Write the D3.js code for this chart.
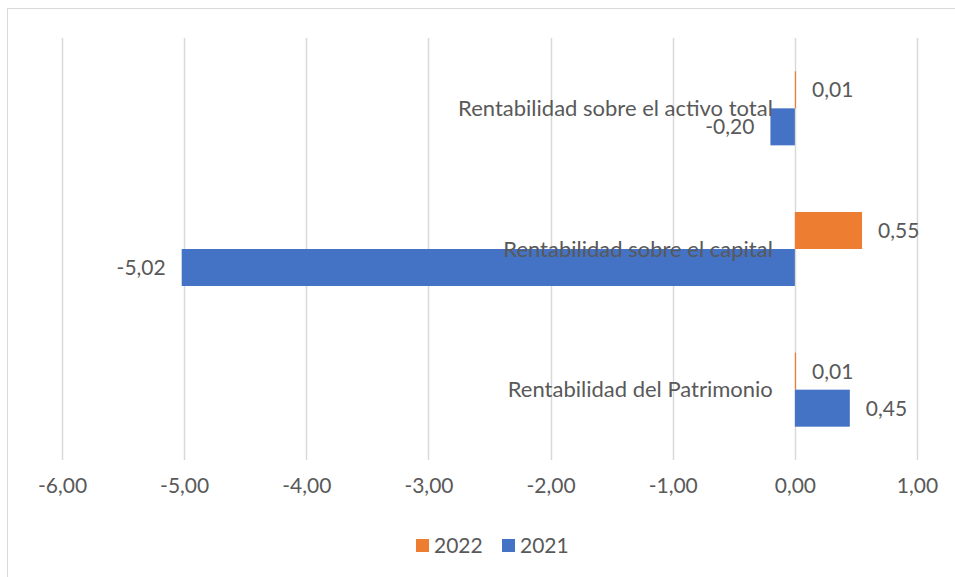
<!DOCTYPE html>
<html>
<head>
<meta charset="utf-8">
<script src="https://cdn.jsdelivr.net/npm/d3@7"></script>
<style>
  html, body { margin: 0; padding: 0; background: #fff; }
  svg text { font-family: Lato, Carlito, Calibri, sans-serif; fill: #595959; }
</style>
</head>
<body>
<div id="chart"></div>
<script>
  var categories = ['Rentabilidad sobre el activo total', 'Rentabilidad sobre el capital', 'Rentabilidad del Patrimonio'];
  var seriesNames = ['2022', '2021'];
  var values2022 = [0.01, 0.55, 0.01];
  var values2021 = [-0.20, -5.02, 0.45];
  var tickValues = [-6, -5, -4, -3, -2, -1, 0, 1];
  var colours = { '2022': '#ED7D31', '2021': '#4472C4' };

  var width = 955, height = 577;
  var fontSize = 21;
  var fmt = function(v) { return v.toFixed(2).replace('.', ','); };

  var svg = d3.select('#chart')
    .append('svg')
    .attr('width', width)
    .attr('height', height);

  // chart frame
  svg.append('rect')
    .attr('x', 7.5).attr('y', 8.5)
    .attr('width', 960).attr('height', 600)
    .attr('fill', 'none')
    .attr('stroke', '#D9D9D9');

  var x = d3.scaleLinear().domain([-6, 1]).range([62, 917]);
  var y = d3.scaleBand().domain(categories).range([38, 460]);
  var ySub = d3.scaleBand().domain(seriesNames).range([0, y.bandwidth()]).paddingOuter(0.9);

  // grid
  svg.append('g')
    .selectAll('line')
    .data(tickValues)
    .enter().append('line')
    .attr('x1', function(d) { return Math.round(x(d)) + 0.5; })
    .attr('x2', function(d) { return Math.round(x(d)) + 0.5; })
    .attr('y1', 38).attr('y2', 460)
    .attr('stroke', '#D9D9D9')
    .attr('stroke-width', 1.5);

  // x axis labels
  var xAxis = d3.axisBottom(x).tickValues(tickValues).tickFormat(fmt).tickSize(0).tickPadding(0);
  var ax = svg.append('g').attr('transform', 'translate(0,478)').call(xAxis);
  ax.select('.domain').remove();
  ax.selectAll('text').attr('font-size', fontSize).attr('dy', '0.72em').style('font-family', null);

  // bars
  var rows = [];
  categories.forEach(function(c, i) {
    rows.push({ cat: c, s: '2022', v: values2022[i] });
    rows.push({ cat: c, s: '2021', v: values2021[i] });
  });

  var g = svg.append('g');
  g.selectAll('rect')
    .data(rows)
    .enter().append('rect')
    .attr('x', function(d) { return x(Math.min(0, d.v)); })
    .attr('y', function(d) { return y(d.cat) + ySub(d.s); })
    .attr('width', function(d) { return Math.max(1, Math.abs(x(d.v) - x(0))); })
    .attr('height', ySub.bandwidth())
    .attr('fill', function(d) { return colours[d.s]; });

  // value labels
  g.selectAll('text.val')
    .data(rows)
    .enter().append('text')
    .attr('class', 'val')
    .attr('x', function(d) { return d.v < 0 ? x(d.v) - 16 : x(d.v) + 16; })
    .attr('y', function(d) { return y(d.cat) + ySub(d.s) + ySub.bandwidth() / 2; })
    .attr('dy', '0.35em')
    .attr('text-anchor', function(d) { return d.v < 0 ? 'end' : 'start'; })
    .attr('font-size', fontSize)
    .text(function(d) { return fmt(d.v); });

  // category labels next to zero axis
  svg.append('g')
    .selectAll('text')
    .data(categories)
    .enter().append('text')
    .attr('x', x(0) - 22)
    .attr('y', function(d) { return y(d) + y.bandwidth() / 2; })
    .attr('dy', '0.35em')
    .attr('text-anchor', 'end')
    .attr('font-size', 22)
    .text(function(d) { return d; });

  // legend
  var legend = svg.append('g').attr('transform', 'translate(416,546)');
  var li = legend.selectAll('g')
    .data(seriesNames)
    .enter().append('g')
    .attr('transform', function(d, i) { return 'translate(' + (i * 86) + ',0)'; });
  li.append('rect')
    .attr('x', 0).attr('y', -7)
    .attr('width', 13).attr('height', 13)
    .attr('fill', function(d) { return colours[d]; });
  li.append('text')
    .attr('x', 18).attr('dy', '0.35em')
    .attr('font-size', fontSize)
    .text(function(d) { return d; });
</script>
</body>
</html>
